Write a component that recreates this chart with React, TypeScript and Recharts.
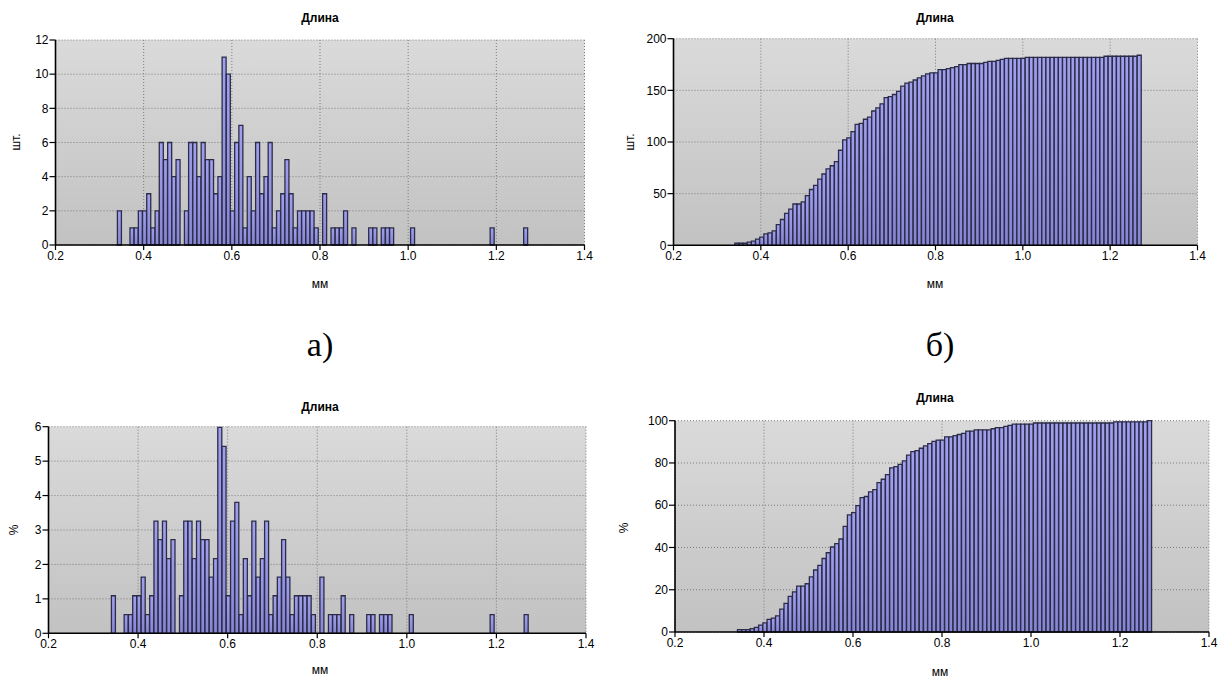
import { BarChart, Bar, XAxis, YAxis, CartesianGrid } from "recharts";

// bin centres, mm (98 bins, ~0.0095 mm wide)
const MM_BINS = [
  0.3452, 0.3547, 0.3642, 0.3737, 0.3832, 0.3927, 0.4022, 0.4117, 0.4212, 0.4307,
  0.4402, 0.4497, 0.4592, 0.4687, 0.4782, 0.4877, 0.4972, 0.5067, 0.5162, 0.5257,
  0.5352, 0.5447, 0.5542, 0.5637, 0.5732, 0.5827, 0.5922, 0.6017, 0.6112, 0.6207,
  0.6302, 0.6397, 0.6492, 0.6587, 0.6682, 0.6777, 0.6872, 0.6967, 0.7062, 0.7157,
  0.7252, 0.7347, 0.7442, 0.7537, 0.7632, 0.7727, 0.7822, 0.7917, 0.8012, 0.8107,
  0.8202, 0.8297, 0.8392, 0.8487, 0.8582, 0.8677, 0.8772, 0.8867, 0.8962, 0.9057,
  0.9152, 0.9247, 0.9342, 0.9437, 0.9532, 0.9627, 0.9722, 0.9817, 0.9912, 1.0007,
  1.0102, 1.0197, 1.0292, 1.0387, 1.0482, 1.0577, 1.0672, 1.0767, 1.0862, 1.0957,
  1.1052, 1.1147, 1.1242, 1.1337, 1.1432, 1.1527, 1.1622, 1.1717, 1.1812, 1.1907,
  1.2002, 1.2097, 1.2192, 1.2287, 1.2382, 1.2477, 1.2572, 1.2667,
];

// а) pieces per bin
const COUNTS = [
  2, 0, 0, 1, 1, 2, 2, 3, 1, 2,
  6, 5, 6, 4, 5, 0, 2, 6, 6, 4,
  6, 5, 5, 3, 4, 11, 10, 2, 6, 7,
  1, 4, 2, 6, 3, 4, 6, 1, 2, 3,
  5, 3, 1, 2, 2, 2, 2, 1, 0, 3,
  0, 1, 1, 1, 2, 0, 1, 0, 0, 0,
  1, 1, 0, 1, 1, 1, 0, 0, 0, 0,
  1, 0, 0, 0, 0, 0, 0, 0, 0, 0,
  0, 0, 0, 0, 0, 0, 0, 0, 0, 1,
  0, 0, 0, 0, 0, 0, 0, 1,
];

// б) cumulative pieces
const CUM_COUNTS = [
  2, 2, 2, 3, 4, 6, 8, 11, 12, 14,
  20, 25, 31, 35, 40, 40, 42, 48, 54, 58,
  64, 69, 74, 77, 81, 92, 102, 104, 110, 117,
  118, 122, 124, 130, 133, 137, 143, 144, 146, 149,
  154, 157, 158, 160, 162, 164, 166, 167, 167, 170,
  170, 171, 172, 173, 175, 175, 176, 176, 176, 176,
  177, 178, 178, 179, 180, 181, 181, 181, 181, 181,
  182, 182, 182, 182, 182, 182, 182, 182, 182, 182,
  182, 182, 182, 182, 182, 182, 182, 182, 182, 183,
  183, 183, 183, 183, 183, 183, 183, 184,
];

// в) percent per bin
const PERCENT = [
  1.09, 0, 0, 0.54, 0.54, 1.09, 1.09, 1.63, 0.54, 1.09,
  3.26, 2.72, 3.26, 2.17, 2.72, 0, 1.09, 3.26, 3.26, 2.17,
  3.26, 2.72, 2.72, 1.63, 2.17, 5.98, 5.43, 1.09, 3.26, 3.8,
  0.54, 2.17, 1.09, 3.26, 1.63, 2.17, 3.26, 0.54, 1.09, 1.63,
  2.72, 1.63, 0.54, 1.09, 1.09, 1.09, 1.09, 0.54, 0, 1.63,
  0, 0.54, 0.54, 0.54, 1.09, 0, 0.54, 0, 0, 0,
  0.54, 0.54, 0, 0.54, 0.54, 0.54, 0, 0, 0, 0,
  0.54, 0, 0, 0, 0, 0, 0, 0, 0, 0,
  0, 0, 0, 0, 0, 0, 0, 0, 0, 0.54,
  0, 0, 0, 0, 0, 0, 0, 0.54,
];

// г) cumulative percent
const CUM_PERCENT = [
  1.09, 1.09, 1.09, 1.63, 2.17, 3.26, 4.35, 5.98, 6.52, 7.61,
  10.87, 13.59, 16.85, 19.02, 21.74, 21.74, 22.83, 26.09, 29.35, 31.52,
  34.78, 37.5, 40.22, 41.85, 44.02, 50, 55.43, 56.52, 59.78, 63.59,
  64.13, 66.3, 67.39, 70.65, 72.28, 74.46, 77.72, 78.26, 79.35, 80.98,
  83.7, 85.33, 85.87, 86.96, 88.04, 89.13, 90.22, 90.76, 90.76, 92.39,
  92.39, 92.93, 93.48, 94.02, 95.11, 95.11, 95.65, 95.65, 95.65, 95.65,
  96.2, 96.74, 96.74, 97.28, 97.83, 98.37, 98.37, 98.37, 98.37, 98.37,
  98.91, 98.91, 98.91, 98.91, 98.91, 98.91, 98.91, 98.91, 98.91, 98.91,
  98.91, 98.91, 98.91, 98.91, 98.91, 98.91, 98.91, 98.91, 98.91, 99.46,
  99.46, 99.46, 99.46, 99.46, 99.46, 99.46, 99.46, 100,
];

const X_TICKS = [0.2, 0.4, 0.6, 0.8, 1.0, 1.2, 1.4];
const COUNT_TICKS = [0, 2, 4, 6, 8, 10, 12];
const CUM_COUNT_TICKS = [0, 50, 100, 150, 200];
const PERCENT_TICKS = [0, 1, 2, 3, 4, 5, 6];
const CUM_PERCENT_TICKS = [0, 20, 40, 60, 80, 100];

const FONT = '"Liberation Sans", Arial, sans-serif';
const SERIF = '"Liberation Serif", "Times New Roman", serif';
const TICK = { fill: "#000", fontSize: 12, fontFamily: FONT };
const BAR_EDGE = "#2c2c48";

function Txt({
  x,
  y,
  children,
  size = 12,
  bold = false,
  rotate = false,
  family = FONT,
}: {
  x: number;
  y: number;
  children: string;
  size?: number;
  bold?: boolean;
  rotate?: boolean;
  family?: string;
}) {
  return (
    <div
      style={{
        position: "absolute",
        left: x,
        top: y,
        transform: `translate(-50%, -50%)${rotate ? " rotate(-90deg)" : ""}`,
        fontFamily: family,
        fontSize: size,
        fontWeight: bold ? 700 : 400,
        whiteSpace: "nowrap",
        lineHeight: 1,
        color: "#000",
      }}
    >
      {children}
    </div>
  );
}

function Panel({
  id,
  left,
  top,
  width,
  height,
  margin,
  yWidth,
  xHeight,
  values,
  yTicks,
}: {
  id: string;
  left: number;
  top: number;
  width: number;
  height: number;
  margin: { top: number; right: number; left: number; bottom: number };
  yWidth: number;
  xHeight: number;
  values: number[];
  yTicks: number[];
}) {
  const rows = MM_BINS.map((mm, i) => ({ mm, v: values[i] }));
  return (
    <div style={{ position: "absolute", left, top }}>
      <BarChart
        width={width}
        height={height}
        data={rows}
        margin={margin}
        barCategoryGap={0}
        barGap={0}
      >
        <defs>
          <linearGradient id={`bg-${id}`} x1="0" y1="0" x2="0" y2="1">
            <stop offset="0%" stopColor="#dadada" />
            <stop offset="100%" stopColor="#c2c2c2" />
          </linearGradient>
          <linearGradient id={`bar-${id}`} x1="0" y1="0" x2="0" y2="1">
            <stop offset="0%" stopColor="#a0a0ee" />
            <stop offset="100%" stopColor="#8686d4" />
          </linearGradient>
        </defs>
        <CartesianGrid
          stroke="#7c7c7c"
          strokeDasharray="1 2"
          fill={`url(#bg-${id})`}
          fillOpacity={1}
        />
        <XAxis
          type="number"
          dataKey="mm"
          domain={[0.2, 1.4]}
          ticks={X_TICKS}
          interval={0}
          allowDataOverflow
          height={xHeight}
          tickFormatter={(v: number) => v.toFixed(1)}
          tick={TICK}
          tickSize={5}
          tickMargin={1}
          axisLine={{ stroke: "#000", strokeWidth: 1.6 }}
          tickLine={{ stroke: "#000", strokeWidth: 1.2 }}
        />
        <YAxis
          type="number"
          domain={[yTicks[0], yTicks[yTicks.length - 1]]}
          ticks={yTicks}
          interval={0}
          width={yWidth}
          tick={TICK}
          tickSize={6}
          tickMargin={1}
          axisLine={{ stroke: "#000", strokeWidth: 1.6 }}
          tickLine={{ stroke: "#000", strokeWidth: 1.2 }}
        />
        <Bar
          dataKey="v"
          fill={`url(#bar-${id})`}
          stroke={BAR_EDGE}
          strokeWidth={1.3}
          isAnimationActive={false}
        />
      </BarChart>
    </div>
  );
}

export default function App() {
  return (
    <div
      style={{
        position: "absolute",
        left: 0,
        top: 0,
        width: 1228,
        height: 682,
        background: "#fff",
        overflow: "hidden",
      }}
    >
      <Panel
        id="a"
        left={0}
        top={0}
        width={600}
        height={300}
        margin={{ top: 40, right: 15.5, left: 0, bottom: 0 }}
        yWidth={55.5}
        xHeight={55}
        values={COUNTS}
        yTicks={COUNT_TICKS}
      />
      <Panel
        id="b"
        left={615}
        top={0}
        width={600}
        height={300}
        margin={{ top: 38.7, right: 17.5, left: 0, bottom: 0 }}
        yWidth={58.5}
        xHeight={54.7}
        values={CUM_COUNTS}
        yTicks={CUM_COUNT_TICKS}
      />
      <Panel
        id="c"
        left={0}
        top={390}
        width={600}
        height={292}
        margin={{ top: 36.7, right: 14, left: 0, bottom: 0 }}
        yWidth={48.5}
        xHeight={48.7}
        values={PERCENT}
        yTicks={PERCENT_TICKS}
      />
      <Panel
        id="d"
        left={615}
        top={390}
        width={613}
        height={292}
        margin={{ top: 30.7, right: 19, left: 0, bottom: 0 }}
        yWidth={60}
        xHeight={50}
        values={CUM_PERCENT}
        yTicks={CUM_PERCENT_TICKS}
      />

      <Txt x={320} y={18} bold>Длина</Txt>
      <Txt x={935} y={18} bold>Длина</Txt>
      <Txt x={320} y={407} bold>Длина</Txt>
      <Txt x={935} y={398} bold>Длина</Txt>

      <Txt x={16} y={142} rotate>шт.</Txt>
      <Txt x={630} y={142} rotate>шт.</Txt>
      <Txt x={14} y={530} rotate>%</Txt>
      <Txt x={624} y={528} rotate>%</Txt>

      <Txt x={320} y={284}>мм</Txt>
      <Txt x={935} y={284}>мм</Txt>
      <Txt x={320} y={670}>мм</Txt>
      <Txt x={940} y={672}>мм</Txt>

      <Txt x={320} y={345} size={34} family={SERIF}>а)</Txt>
      <Txt x={940} y={345} size={34} family={SERIF}>б)</Txt>
    </div>
  );
}
